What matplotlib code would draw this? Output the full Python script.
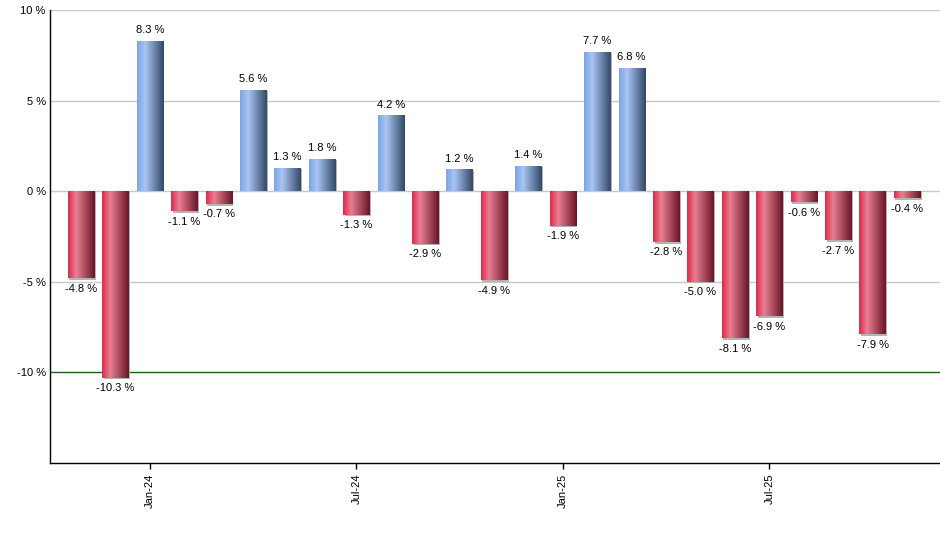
import numpy as np
import matplotlib
matplotlib.use("Agg")
import matplotlib.pyplot as plt
from matplotlib.colors import LinearSegmentedColormap
from matplotlib.patches import Rectangle

plt.rcParams["font.family"] = ["Liberation Sans", "DejaVu Sans"]

returns = [-4.8, -10.3, 8.3, -1.1, -0.7, 5.6, 1.3, 1.8, -1.3, 4.2, -2.9, 1.2,
           -4.9, 1.4, -1.9, 7.7, 6.8, -2.8, -5.0, -8.1, -6.9, -0.6, -2.7, -7.9, -0.4]
tick_idx = [2, 8, 14, 20]
tick_labels = ["Jan-24", "Jul-24", "Jan-25", "Jul-25"]

blue_cmap = LinearSegmentedColormap.from_list(
    "b", [(0, "#7da4e6"), (0.3, "#a9c5f2"), (1, "#34496a")])
red_cmap = LinearSegmentedColormap.from_list(
    "r", [(0, "#de2a4c"), (0.3, "#e87f93"), (1, "#6a1528")])
grad = np.linspace(0, 1, 64).reshape(1, -1)

fig = plt.figure(figsize=(9.4, 5.5), dpi=100)
ax = fig.add_axes([50 / 940, 1 - 463 / 550, 890 / 940, 453 / 550])

ax.set_xlim(-0.9, 24.96)
ax.set_ylim(-15, 10)

for y in [10, 5, 0, -5]:
    ax.axhline(y, color="#c8c8c8", lw=1, zorder=0)
ax.axhline(-10, color="#1a5e1a", lw=1, zorder=0)

w = 0.76
dx, dy = 0.045, 0.09
for i, v in enumerate(returns):
    x0 = i - w / 2
    # thin grey shadow right / below
    ax.add_patch(Rectangle((x0 + dx, 0), w, v - dy if v < 0 else v - dy,
                           color="#b4b4b4", zorder=1, lw=0))
    rect = Rectangle((x0, 0), w, v, facecolor="none", edgecolor="none", zorder=2)
    ax.add_patch(rect)
    cmap = blue_cmap if v >= 0 else red_cmap
    im = ax.imshow(grad, cmap=cmap, aspect="auto", extent=(x0, x0 + w, min(0, v), max(0, v)),
                   zorder=2, interpolation="bilinear")
    im.set_clip_path(rect)
    if v >= 0:
        ax.annotate(f"{v:.1f} %", (i, v), xytext=(0, 4), textcoords="offset points",
                    ha="center", va="bottom", fontsize=8)
    else:
        ax.annotate(f"{v:.1f} %", (i, v), xytext=(0, -4), textcoords="offset points",
                    ha="center", va="top", fontsize=8)

ax.set_yticks([10, 5, 0, -5, -10])
ax.set_yticklabels(["10 %", "5 %", "0 %", "-5 %", "-10 %"], fontsize=8)
ax.tick_params(axis="y", length=0, pad=3)
ax.set_xticks(tick_idx)
ax.set_xticklabels(tick_labels, rotation=90, fontsize=8)
ax.tick_params(axis="x", length=4, width=1)

for s in ["top", "right"]:
    ax.spines[s].set_visible(False)
for s in ["left", "bottom"]:
    ax.spines[s].set_linewidth(1)

fig.savefig("out.png", dpi=100)
